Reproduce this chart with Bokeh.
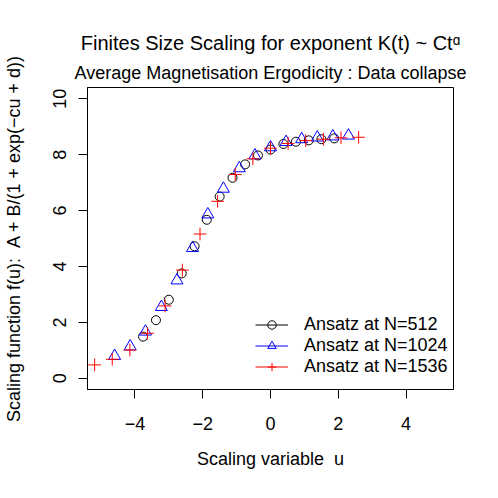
from bokeh.plotting import figure
from bokeh.models import FixedTicker, Legend, LegendItem, Range1d, Title
from bokeh.embed import file_html
from bokeh.resources import INLINE

# ---- data ----
u_512 = [-3.76, -3.38, -3.00, -2.62, -2.24, -1.88, -1.50, -1.12, -0.75, -0.37, 0.00, 0.38, 0.75, 1.13, 1.50, 1.88]
f_512 = [1.49, 2.08, 2.81, 3.75, 4.72, 5.67, 6.50, 7.17, 7.65, 7.97, 8.18, 8.38, 8.46, 8.51, 8.55, 8.58]

u_1024 = [-4.60, -4.14, -3.69, -3.22, -2.76, -2.30, -1.85, -1.39, -0.92, -0.46, 0.00, 0.46, 0.92, 1.38, 1.84, 2.30]
f_1024 = [0.80, 1.14, 1.67, 2.55, 3.50, 4.66, 5.86, 6.78, 7.51, 7.97, 8.26, 8.45, 8.55, 8.61, 8.65, 8.68]

u_1536 = [-5.19, -4.67, -4.15, -3.63, -3.11, -2.60, -2.08, -1.56, -1.04, -0.52, 0.00, 0.52, 1.04, 1.56, 2.08, 2.60]
f_1536 = [0.48, 0.68, 1.01, 1.61, 2.59, 3.87, 5.16, 6.33, 7.29, 7.85, 8.23, 8.40, 8.50, 8.55, 8.60, 8.62]

series_labels = ["Ansatz at N=512", "Ansatz at N=1024", "Ansatz at N=1536"]
x_ticks = [-4, -2, 0, 2, 4]
y_ticks = [0, 2, 4, 6, 8, 10]
NAN = float("nan")

SANS = "Liberation Sans"
FS = "18px"

p = figure(frame_width=366, frame_height=302,
           min_border_left=87, min_border_right=37, min_border_top=87, min_border_bottom=101,
           x_range=Range1d(-5.4, 5.4), y_range=Range1d(-0.4, 10.4),
           output_backend="svg", toolbar_location=None)
p.title = None

p.xgrid.visible = False
p.ygrid.visible = False
p.outline_line_color = "black"
p.outline_line_width = 1
p.background_fill_color = "white"
p.border_fill_color = "white"

for ax in (p.xaxis[0], p.yaxis[0]):
    ax.axis_line_color = "black"
    ax.major_tick_line_color = "black"
    ax.major_tick_out = 9
    ax.major_tick_in = 0
    ax.minor_tick_line_color = None
    ax.major_label_text_font = SANS
    ax.major_label_text_font_size = FS
    ax.major_label_text_color = "black"
    ax.axis_label_text_font = SANS
    ax.axis_label_text_font_size = FS
    ax.axis_label_text_font_style = "normal"
    ax.axis_label_text_color = "black"

p.xaxis.ticker = FixedTicker(ticks=x_ticks)
p.yaxis.ticker = FixedTicker(ticks=y_ticks)
p.xaxis.major_label_overrides = {t: (str(t).replace("-", "\u2212")) for t in x_ticks}
p.yaxis.major_label_orientation = "vertical"
p.xaxis.major_label_standoff = 18
p.yaxis.major_label_standoff = 12
p.xaxis.axis_label = "Scaling variable \u00a0u"
p.yaxis.axis_label = "Scaling function f(u): \u00a0A + B/(1 + exp(\u2212cu + d))"
p.xaxis.axis_label_standoff = 16
p.yaxis.axis_label_standoff = 27

# legend line samples (not drawn in the plot area)
l1 = p.line(x=[NAN, NAN], y=[NAN, NAN], line_color="black", line_width=1)
l2 = p.line(x=[NAN, NAN], y=[NAN, NAN], line_color="blue", line_width=1)
l3 = p.line(x=[NAN, NAN], y=[NAN, NAN], line_color="red", line_width=1)

s1 = p.scatter(u_512, f_512, marker="circle", size=9, fill_color=None, line_color="black", line_width=1)
s2 = p.scatter(u_1024, f_1024, marker="triangle", size=12, fill_color=None, line_color="blue", line_width=1)
s3 = p.scatter(u_1536, f_1536, marker="cross", size=12.7, line_color="red", line_width=1)

legend = Legend(items=[
    LegendItem(label=series_labels[0], renderers=[l1, s1]),
    LegendItem(label=series_labels[1], renderers=[l2, s2]),
    LegendItem(label=series_labels[2], renderers=[l3, s3]),
], location=(168, 12), padding=0, margin=0, spacing=0,
   glyph_width=33, glyph_height=21, label_height=21, label_standoff=16,
   border_line_color=None, background_fill_alpha=0,
   label_text_font=SANS, label_text_font_size=FS, label_text_color="black")
p.add_layout(legend, "center")

sub = Title(text="Average Magnetisation Ergodicity : Data collapse", align="center",
            text_font=SANS, text_font_size=FS, text_font_style="normal",
            text_color="black", standoff=9)
main = Title(text="Finites Size Scaling for exponent K(t) ~ Ct\u1d45", align="center",
             text_font=SANS, text_font_size="20px", text_font_style="normal",
             text_color="black", standoff=6)
p.add_layout(sub, "above")
p.add_layout(main, "above")

open("out.html", "w").write(file_html(p, INLINE))
